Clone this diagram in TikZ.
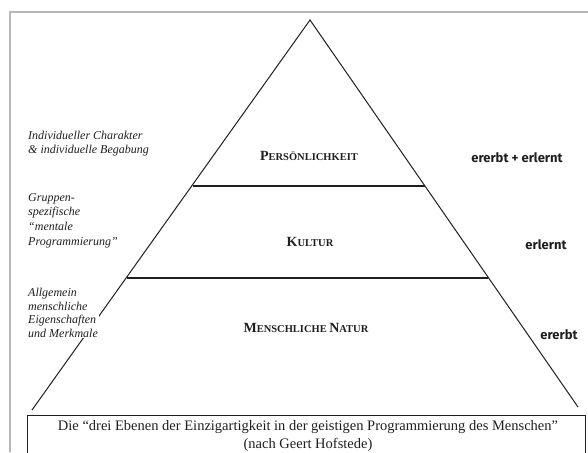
\documentclass[tikz,border=0pt]{standalone}
\usepackage{fontspec}
\setmainfont{Liberation Serif}
\newfontfamily\handfont{Fira Sans}
\newcommand\mySC[2]{{\fontsize{14}{14}\selectfont #1}{\fontsize{10.5}{10.5}\selectfont #2}}
\definecolor{ink}{gray}{0.12}
\definecolor{frame}{gray}{0.72}
\tikzset{
  side/.style={draw=ink, line width=1pt},
  level/.style={draw=ink, line width=1.3pt},
  leftlabel/.style={anchor=north west, align=left, fill=white, inner sep=1pt,
    font=\fontsize{12}{14}\selectfont\itshape, text=ink},
  layername/.style={font=\bfseries, text=ink, inner sep=0pt},
  heredity/.style={font=\handfont\bfseries\fontsize{13}{13}\selectfont, text=ink, inner sep=0pt},
  caption/.style={font=\fontsize{14.5}{18}\selectfont, text=ink, align=center, inner sep=0pt}
}
\begin{document}
\begin{tikzpicture}[x=1pt, y=-1pt]
\useasboundingbox (0,0) rectangle (588,452);
\fill[white] (0,0) rectangle (588,452);
% scan frame
\draw[frame, line width=2.2pt] (10,452) -- (10,12) -- (588,12);
% pyramid
\coordinate (apex) at (310,20);
\coordinate (bl) at (32,410);
\coordinate (br) at (578,407);
\coordinate (l1) at (193,186);
\coordinate (r1) at (425,186);
\coordinate (l2) at (127,278);
\coordinate (r2) at (488,278);
\draw[side] (bl) -- (apex) -- (br);
\draw[level] (l1) -- (r1);
\draw[level] (l2) -- (r2);
% left labels
\node[leftlabel] (lab1) at (27,130) {Individueller Charakter\\\& individuelle Begabung};
\node[leftlabel, font=\fontsize{12}{14.7}\selectfont\itshape] (lab2) at (27,192) {Gruppen-\\spezifische\\“mentale\\Programmierung”};
\node[leftlabel, font=\fontsize{12}{13.5}\selectfont\itshape] (lab3) at (27,287) {Allgemein\\menschliche\\Eigenschaften\\und Merkmale};
% layer names
\node[layername] (pers) at (309,156) {\mySC{P}{ERSÖNLICHKEIT}};
\node[layername] (kult) at (310,242) {\mySC{K}{ULTUR}};
\node[layername] (natur) at (306,328) {\mySC{M}{ENSCHLICHE} \mySC{N}{ATUR}};
% right labels
\node[heredity] (h1) at (517,158) {ererbt + erlernt};
\node[heredity] (h2) at (546,245) {erlernt};
\node[heredity] (h3) at (559,335) {ererbt};
% caption box
\draw[ink, line width=1pt] (27,455) -- (27,415) -- (585,415) -- (585,455);
\node[caption] (cap) at (308,436) {Die “drei Ebenen der Einzigartigkeit in der geistigen Programmierung des Menschen”\\(nach Geert Hofstede)};
\end{tikzpicture}
\end{document}
